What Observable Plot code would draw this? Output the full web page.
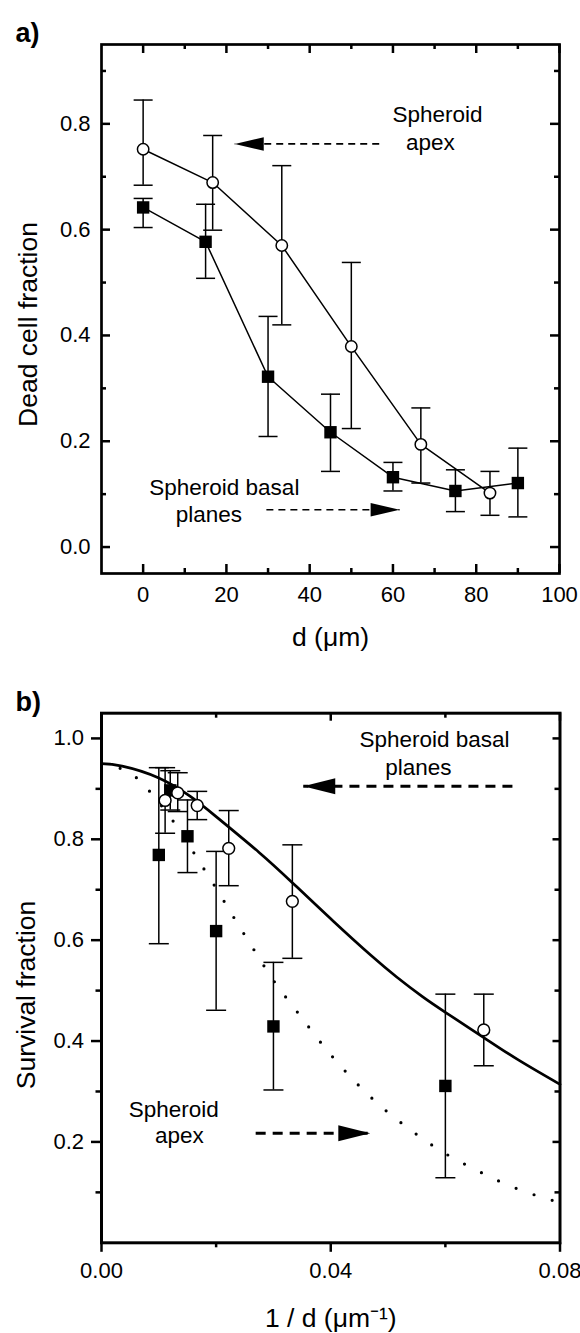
<!DOCTYPE html>
<html>
<head>
<meta charset="utf-8">
<script src="https://cdn.jsdelivr.net/npm/d3@7"></script>
<script src="https://cdn.jsdelivr.net/npm/@observablehq/plot@0.6"></script>
<style>
  body { margin: 0; background: #fff; }
  #chart svg { display: block; }
</style>
</head>
<body>
<div id="chart"></div>
<script>
// ---------- Panel a: dead cell fraction vs d (µm) ----------
const aCircX  = [0, 16.7, 33.3, 50, 66.7, 83.3];
const aCircY  = [0.752, 0.689, 0.570, 0.379, 0.194, 0.102];
const aCircHi = [0.845, 0.778, 0.721, 0.538, 0.263, 0.143];
const aCircLo = [0.684, 0.599, 0.420, 0.224, 0.121, 0.060];

const aSqX  = [0, 15, 30, 45, 60, 75, 90];
const aSqY  = [0.642, 0.577, 0.322, 0.217, 0.132, 0.106, 0.121];
const aSqHi = [0.659, 0.648, 0.436, 0.289, 0.160, 0.146, 0.187];
const aSqLo = [0.604, 0.508, 0.209, 0.143, 0.106, 0.067, 0.057];

const aXMajor = [0, 20, 40, 60, 80, 100];
const aXMinor = [10, 30, 50, 70, 90];
const aYMajor = [0.0, 0.2, 0.4, 0.6, 0.8];
const aYMinor = [0.1, 0.3, 0.5, 0.7, 0.9];

const aNoteText = ["Spheroid", "apex", "Spheroid basal", "planes"];
const aNoteX    = [70.7, 69.0, 19.5, 15.8];
const aNoteY    = [0.803, 0.751, 0.099, 0.047];
const aArrowY    = [0.762, 0.0705];
const aArrowFrom = [56.7, 29.6];
const aArrowTip  = [22.0, 61.6];
const aArrowDir  = [-1, 1];

// ---------- Panel b: survival fraction vs 1/d ----------
const bCircX  = [0.0111, 0.0133, 0.0167, 0.0222, 0.0333, 0.0667];
const bCircY  = [0.877, 0.892, 0.867, 0.782, 0.677, 0.422];
const bCircHi = [0.942, 0.932, 0.895, 0.857, 0.789, 0.493];
const bCircLo = [0.812, 0.855, 0.839, 0.708, 0.564, 0.351];

const bSqX  = [0.0100, 0.0120, 0.0150, 0.0200, 0.0300, 0.0600];
const bSqY  = [0.769, 0.897, 0.806, 0.618, 0.429, 0.311];
const bSqHi = [0.942, 0.936, 0.878, 0.776, 0.556, 0.493];
const bSqLo = [0.593, 0.858, 0.734, 0.461, 0.303, 0.129];

const bSolidX = [0, 0.0036, 0.0099, 0.0155, 0.020, 0.0275, 0.0333, 0.0405, 0.047, 0.0515, 0.056, 0.060, 0.0667, 0.0728, 0.080];
const bSolidY = [0.950, 0.945, 0.922, 0.885, 0.845, 0.774, 0.714, 0.637, 0.570, 0.527, 0.488, 0.457, 0.407, 0.362, 0.314];

const bDotX = [0, 0.0039, 0.0065, 0.009, 0.013, 0.0165, 0.020, 0.0233, 0.0267, 0.0302, 0.0342, 0.0384, 0.0432, 0.0485, 0.054, 0.0594, 0.0649, 0.0704, 0.0758, 0.080];
const bDotY = [0.950, 0.938, 0.918, 0.887, 0.828, 0.766, 0.703, 0.641, 0.579, 0.517, 0.457, 0.395, 0.332, 0.273, 0.223, 0.181, 0.147, 0.117, 0.094, 0.080];

const bXMajor = [0, 0.04, 0.08];
const bXMinor = [0.02, 0.06];
const bYMajor = [0.2, 0.4, 0.6, 0.8, 1.0];
const bYMinor = [0.1, 0.3, 0.5, 0.7, 0.9];

const bNoteText = ["Spheroid basal", "planes", "Spheroid", "apex"];
const bNoteX    = [0.0581, 0.0553, 0.0126, 0.0136];
const bNoteY    = [0.983, 0.928, 0.250, 0.197];
const bArrowY    = [0.905, 0.217];
const bArrowFrom = [0.0717, 0.0269];
const bArrowTip  = [0.0352, 0.0469];
const bArrowDir  = [-1, 1];

// ---------- helpers ----------
const rows = (xs, ys, hi, lo) => xs.map((x, i) => ({x, y: ys[i], hi: hi[i], lo: lo[i]}));
const pts = (xs, ys) => xs.map((x, i) => ({x, y: ys[i]}));
const notes = (t, xs, ys) => t.map((s, i) => ({s, x: xs[i], y: ys[i]}));
const arrows = (ys, from, tip, dir) => ys.map((y, i) => ({y, from: from[i], tip: tip[i], dir: dir[i]}));

const capSymbol = (w) => ({draw(ctx) { ctx.moveTo(-w, 0); ctx.lineTo(w, 0); }});
const headSymbol = (L, H) => ({draw(ctx) { ctx.moveTo(0, 0); ctx.lineTo(-L, -H / 2); ctx.lineTo(-L, H / 2); ctx.closePath(); }});

const FONT = "'Liberation Sans', Arial, Helvetica, sans-serif";
const style = {fontFamily: FONT, fontSize: "22px", color: "black", background: "white", overflow: "visible"};

// frame tick marks: len > 0 points inward, len < 0 points outward
function frameTicks(side, vals, len, W, H, sw) {
  const a = Math.max(len, 0), b = Math.min(len, 0);
  const o = {stroke: "black", strokeWidth: sw};
  if (side === "bottom") return Plot.tickX(vals, {x: d => d, insetTop: H - a, insetBottom: b, ...o});
  if (side === "top") return Plot.tickX(vals, {x: d => d, insetBottom: H - a, insetTop: b, ...o});
  if (side === "left") return Plot.tickY(vals, {y: d => d, insetRight: W - a, insetLeft: b, ...o});
  return Plot.tickY(vals, {y: d => d, insetLeft: W - a, insetRight: b, ...o});
}
function labelAxis(kind, anchor, ticks, pad, fmt) {
  const f = kind === "x" ? Plot.axisX : Plot.axisY;
  return f(ticks, {anchor, tickSize: 0, tickPadding: pad, tickFormat: fmt, label: null});
}
function errorMarks(data, capW, sw) {
  return [
    Plot.ruleX(data, {x: "x", y1: "lo", y2: "hi", stroke: "black", strokeWidth: sw}),
    Plot.dot(data, {x: "x", y: "hi", symbol: capSymbol(capW), fill: "none", stroke: "black", strokeWidth: sw}),
    Plot.dot(data, {x: "x", y: "lo", symbol: capSymbol(capW), fill: "none", stroke: "black", strokeWidth: sw})
  ];
}
function arrowMarks(data, L, H, sw, dash) {
  return [
    Plot.link(data, {x1: "from", y1: "y", x2: "tip", y2: "y", stroke: "black", strokeWidth: sw, strokeDasharray: dash}),
    Plot.dot(data, {x: "tip", y: "y", symbol: headSymbol(L, H), rotate: d => d.dir > 0 ? 0 : 180, fill: "black", stroke: "none"})
  ];
}

// ---------- panel a ----------
const aCirc = rows(aCircX, aCircY, aCircHi, aCircLo);
const aSq = rows(aSqX, aSqY, aSqHi, aSqLo);
const aW = 580 - 101 - 21, aH = 660 - 44 - 87;

const plotA = Plot.plot({
  width: 580, height: 660,
  marginTop: 44, marginBottom: 87, marginLeft: 101, marginRight: 21,
  x: {domain: [-10, 100], axis: null},
  y: {domain: [-0.05, 0.95], axis: null},
  style,
  marks: [
    Plot.line(aCirc, {x: "x", y: "y", stroke: "black", strokeWidth: 1.5}),
    Plot.line(aSq, {x: "x", y: "y", stroke: "black", strokeWidth: 1.5}),
    ...errorMarks(aCirc, 9.5, 1.5),
    ...errorMarks(aSq, 9.5, 1.5),
    Plot.dot(aSq, {x: "x", y: "y", symbol: "square", r: 7, fill: "black", stroke: "none"}),
    Plot.dot(aCirc, {x: "x", y: "y", r: 5.7, fill: "white", stroke: "black", strokeWidth: 1.5}),
    ...arrowMarks(arrows(aArrowY, aArrowFrom, aArrowTip, aArrowDir), 29, 13.5, 1.7, "7,5"),
    Plot.text(notes(aNoteText, aNoteX, aNoteY), {x: "x", y: "y", text: "s", textAnchor: "middle", lineAnchor: "bottom", fontSize: 22.5}),
    frameTicks("bottom", aXMajor, 9, aW, aH, 2.5),
    frameTicks("bottom", aXMinor, 5, aW, aH, 2.5),
    frameTicks("top", aXMajor, 9, aW, aH, 2.5),
    frameTicks("top", aXMinor, 5, aW, aH, 2.5),
    frameTicks("left", aYMajor, 9, aW, aH, 2.5),
    frameTicks("left", aYMinor, 5, aW, aH, 2.5),
    frameTicks("right", aYMajor, 9, aW, aH, 2.5),
    frameTicks("right", aYMinor, 5, aW, aH, 2.5),
    Plot.frame({stroke: "black", strokeWidth: 2.7}),
    labelAxis("x", "bottom", aXMajor, 13, d3.format("d")),
    labelAxis("y", "left", aYMajor, 11, d3.format(".1f")),
    Plot.text(["a)"], {text: d => d, frameAnchor: "top-left", dx: -86, dy: -2.3, textAnchor: "start", lineAnchor: "bottom", fontWeight: "bold", fontSize: 27}),
    Plot.text(["d (\u03bcm)"], {text: d => d, frameAnchor: "bottom", dy: 72, textAnchor: "middle", lineAnchor: "bottom", fontSize: 26.5}),
    Plot.text(["Dead cell fraction"], {text: d => d, frameAnchor: "left", dx: -65, dy: 15.5, rotate: -90, textAnchor: "middle", lineAnchor: "bottom", fontSize: 26.5})
  ]
});

// ---------- panel b ----------
const bCirc = rows(bCircX, bCircY, bCircHi, bCircLo);
const bSq = rows(bSqX, bSqY, bSqHi, bSqLo);
const bW = 580 - 101 - 20.5, bH = 673 - 52.7 - 90.7;

const plotB = Plot.plot({
  width: 580, height: 673,
  marginTop: 52.7, marginBottom: 90.7, marginLeft: 101, marginRight: 20.5,
  x: {domain: [0, 0.08], axis: null},
  y: {domain: [0, 1.05], axis: null},
  style,
  marks: [
    Plot.line(pts(bDotX, bDotY), {x: "x", y: "y", curve: "natural", stroke: "black", strokeWidth: 3.2, strokeLinecap: "round", strokeDasharray: "0,19"}),
    Plot.line(pts(bSolidX, bSolidY), {x: "x", y: "y", curve: "natural", stroke: "black", strokeWidth: 2.7}),
    ...errorMarks(bSq, 10, 1.5),
    ...errorMarks(bCirc, 10, 1.5),
    Plot.dot(bSq, {x: "x", y: "y", symbol: "square", r: 7, fill: "black", stroke: "none"}),
    Plot.dot(bCirc, {x: "x", y: "y", r: 5.9, fill: "white", stroke: "black", strokeWidth: 1.5}),
    ...arrowMarks(arrows(bArrowY, bArrowFrom, bArrowTip, bArrowDir), 32, 16, 3, "10,7"),
    Plot.text(notes(bNoteText, bNoteX, bNoteY), {x: "x", y: "y", text: "s", textAnchor: "middle", lineAnchor: "bottom", fontSize: 22.5}),
    frameTicks("bottom", bXMajor, -9.5, bW, bH, 2.5),
    frameTicks("bottom", bXMinor, -5, bW, bH, 2.5),
    frameTicks("top", bXMajor, 8, bW, bH, 2.5),
    frameTicks("top", bXMinor, 5, bW, bH, 2.5),
    frameTicks("left", bYMajor, -10, bW, bH, 2.5),
    frameTicks("left", bYMinor, -5.5, bW, bH, 2.5),
    frameTicks("right", bYMajor, 7, bW, bH, 2.5),
    frameTicks("right", bYMinor, 5, bW, bH, 2.5),
    Plot.frame({stroke: "black", strokeWidth: 3}),
    labelAxis("x", "bottom", bXMajor, 19.4, d3.format(".2f")),
    labelAxis("y", "left", bYMajor, 17.5, d3.format(".1f")),
    Plot.text(["b)"], {text: d => d, frameAnchor: "top-left", dx: -86, dy: -2.7, textAnchor: "start", lineAnchor: "bottom", fontWeight: "bold", fontSize: 27}),
    Plot.text(["1 / d (\u03bcm\u207b\u00b9)"], {text: d => d, frameAnchor: "bottom", dy: 83.7, textAnchor: "middle", lineAnchor: "bottom", fontSize: 26.5}),
    Plot.text(["Survival fraction"], {text: d => d, frameAnchor: "left", dx: -67, dy: 17, rotate: -90, textAnchor: "middle", lineAnchor: "bottom", fontSize: 26.5})
  ]
});

const chart = document.getElementById("chart");
chart.appendChild(plotA);
chart.appendChild(plotB);
</script>
</body>
</html>
